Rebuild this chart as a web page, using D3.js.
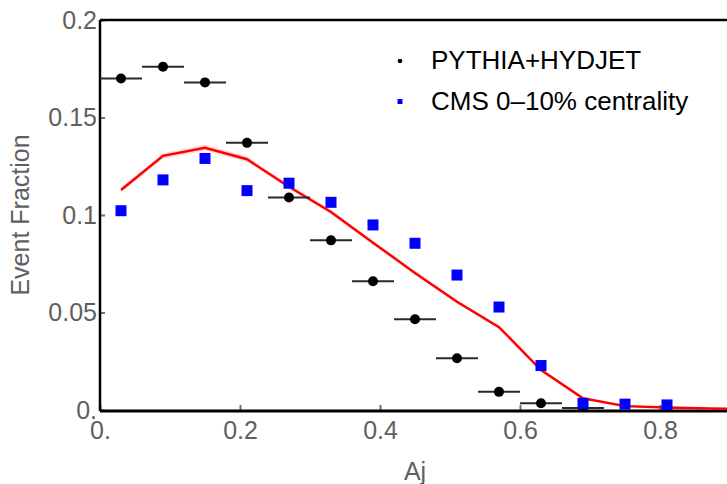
<!DOCTYPE html>
<html>
<head>
<meta charset="utf-8">
<script src="https://cdn.jsdelivr.net/npm/d3@7"></script>
<style>
  body { margin: 0; background: #fff; }
  svg { display: block; font-family: "Liberation Sans", Arial, sans-serif; }
  .tick text { fill: #606060; font-size: 25px; }
  .tick line { stroke: #707070; stroke-width: 2; }
  .label { fill: #606060; font-size: 25px; }
  .legend text { fill: #000; font-size: 26px; }
</style>
</head>
<body>
<div id="chart"></div>
<script>
// PYTHIA+HYDJET (black, with horizontal bin bars)
var pyAj   = [0.03, 0.09, 0.15, 0.21, 0.27, 0.33, 0.39, 0.45, 0.51, 0.57, 0.63, 0.69];
var pyFrac = [0.170, 0.176, 0.168, 0.137, 0.109, 0.087, 0.066, 0.0465, 0.0265, 0.0093, 0.0035, 0.001];
var pyHalfWidth = 0.03;

// CMS 0-10% centrality (blue squares)
var cmsAj   = [0.03, 0.09, 0.15, 0.21, 0.27, 0.33, 0.39, 0.45, 0.51, 0.57, 0.63, 0.69, 0.75, 0.81];
var cmsFrac = [0.1022, 0.118, 0.129, 0.1125, 0.1163, 0.1065, 0.0949, 0.0855, 0.0692, 0.0528, 0.0228, 0.0034, 0.003, 0.0026];

// red model curve with its thin band
var lineAj   = [0.03, 0.09, 0.15, 0.21, 0.27, 0.33, 0.39, 0.45, 0.51, 0.57, 0.63, 0.69, 0.75, 0.81, 0.87, 0.93];
var lineFrac = [0.1128, 0.1303, 0.1345, 0.1286, 0.1145, 0.1015, 0.0858, 0.0703, 0.0555, 0.0425, 0.0205, 0.006, 0.002, 0.0013, 0.0008, 0.0006];
var lineErr  = [0.0012, 0.0014, 0.0016, 0.0014, 0.0012, 0.0011, 0.001, 0.001, 0.001, 0.001, 0.0009, 0.0007, 0.0004, 0.0003, 0.0002, 0.0002];

var xTicks = [0, 0.2, 0.4, 0.6, 0.8];
var xTickLabels = ["0.", "0.2", "0.4", "0.6", "0.8"];
var yTicks = [0, 0.05, 0.1, 0.15, 0.2];
var yTickLabels = ["0.", "0.05", "0.1", "0.15", "0.2"];

var legendNames = ["PYTHIA+HYDJET", "CMS 0\u201310% centrality"];

var svgWidth = 727, svgHeight = 484;
var margin = {top: 20, right: -3, bottom: 74, left: 100},
    width = svgWidth - margin.left - margin.right,
    height = svgHeight - margin.top - margin.bottom;

var svg = d3.select("#chart").append("svg")
    .attr("width", svgWidth)
    .attr("height", svgHeight);

var g = svg.append("g")
    .attr("transform", "translate(" + margin.left + "," + margin.top + ")");

var x = d3.scaleLinear().domain([0, 0.9]).range([0, width]);
var y = d3.scaleLinear().domain([0, 0.2]).range([height, 0]);

g.append("clipPath").attr("id", "plotClip")
  .append("rect").attr("x", 0).attr("y", -2).attr("width", width).attr("height", height + 2);

// axes with inward ticks
g.append("g")
    .attr("transform", "translate(0," + height + ")")
    .call(d3.axisBottom(x).tickValues(xTicks).tickSize(-5).tickPadding(16)
      .tickFormat(function(d, i) { return xTickLabels[i]; }))
    .call(function(a) { a.select(".domain").remove(); })
    .selectAll("text").attr("dy", "0.71em").attr("y", 11);

g.append("g")
    .call(d3.axisLeft(y).tickValues(yTicks).tickSize(-5).tickPadding(8)
      .tickFormat(function(d, i) { return yTickLabels[i]; }))
    .call(function(a) { a.select(".domain").remove(); })
    .selectAll("text").attr("x", -3);

// frame lines
g.append("line").attr("x1", 0).attr("x2", width).attr("y1", 0).attr("y2", 0)
    .attr("stroke", "#000").attr("stroke-width", 2.5);
g.append("line").attr("x1", 0).attr("x2", 0).attr("y1", 0).attr("y2", height + 1)
    .attr("stroke", "#000").attr("stroke-width", 2.5);
g.append("line").attr("x1", 0).attr("x2", width).attr("y1", height + 1).attr("y2", height + 1)
    .attr("stroke", "#000").attr("stroke-width", 3);

// axis titles
g.append("text").attr("class", "label")
    .attr("text-anchor", "middle")
    .attr("x", width / 2).attr("y", height + 70)
    .text("Aj");
g.append("text").attr("class", "label")
    .attr("text-anchor", "middle")
    .attr("transform", "translate(-71," + (height / 2) + ")rotate(-90)")
    .text("Event Fraction");

var plot = g.append("g").attr("clip-path", "url(#plotClip)");

// red band + line
var lineData = lineAj.map(function(d, i) { return {aj: d, v: lineFrac[i], e: lineErr[i]}; });
plot.append("path")
    .datum(lineData)
    .attr("fill", "rgba(255,0,0,0.15)")
    .attr("d", d3.area()
      .x(function(d) { return x(d.aj); })
      .y0(function(d) { return y(d.v - d.e); })
      .y1(function(d) { return y(d.v + d.e); }));
plot.append("path")
    .datum(lineData)
    .attr("fill", "none")
    .attr("stroke", "#ff0000")
    .attr("stroke-width", 2.4)
    .attr("d", d3.line()
      .x(function(d) { return x(d.aj); })
      .y(function(d) { return y(d.v); }));

// PYTHIA points
var pyData = pyAj.map(function(d, i) { return {aj: d, v: pyFrac[i]}; });
plot.selectAll(".pybar").data(pyData).enter().append("line")
    .attr("x1", function(d) { return x(d.aj - pyHalfWidth); })
    .attr("x2", function(d) { return x(d.aj + pyHalfWidth); })
    .attr("y1", function(d) { return y(d.v); })
    .attr("y2", function(d) { return y(d.v); })
    .attr("stroke", "#2a2a2a").attr("stroke-width", 2);
plot.selectAll(".pydot").data(pyData).enter().append("circle")
    .attr("cx", function(d) { return x(d.aj); })
    .attr("cy", function(d) { return y(d.v); })
    .attr("r", 5)
    .attr("fill", "#000");

// CMS squares
var sq = 11;
plot.selectAll(".cms").data(cmsAj).enter().append("rect")
    .attr("x", function(d) { return x(d) - sq / 2; })
    .attr("y", function(d, i) { return y(cmsFrac[i]) - sq / 2; })
    .attr("width", sq).attr("height", sq)
    .attr("fill", "#0000ff");

// legend
var legend = svg.append("g").attr("class", "legend");
legend.append("circle").attr("cx", 400).attr("cy", 61).attr("r", 2.3).attr("fill", "#000");
legend.append("rect").attr("x", 397.5).attr("y", 99).attr("width", 5).attr("height", 5).attr("fill", "#0000ff");
legend.selectAll("text").data(legendNames).enter().append("text")
    .attr("x", 431)
    .attr("y", function(d, i) { return 69 + i * 41; })
    .text(function(d) { return d; });
</script>
</body>
</html>
